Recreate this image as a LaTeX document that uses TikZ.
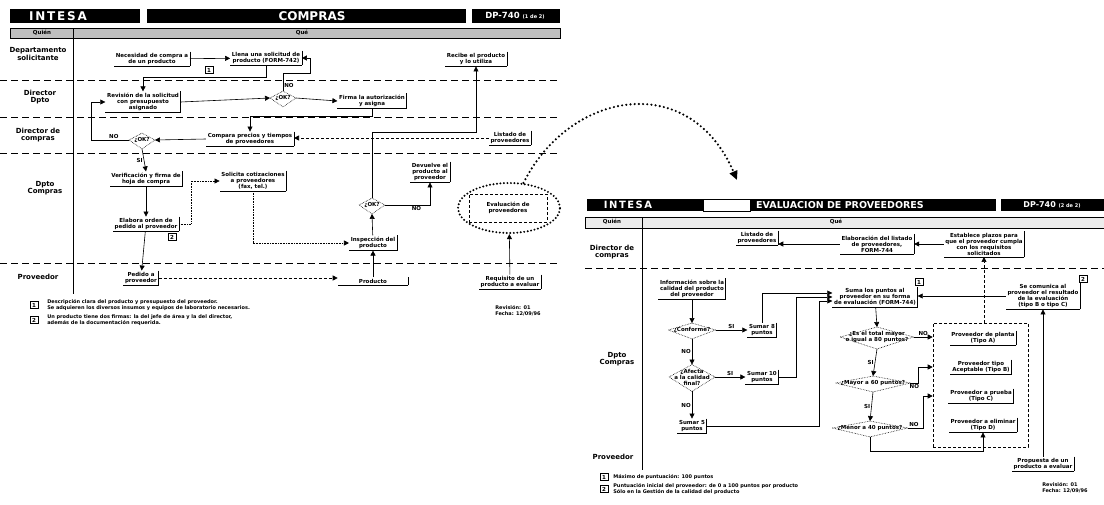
\documentclass[tikz,border=0pt]{standalone}
\usepackage{fontspec}
\setmainfont{DejaVu Sans}
\newfontfamily\headfont[LetterSpace=15]{DejaVu Sans}
\usetikzlibrary{shapes.geometric,arrows.meta,positioning,calc}

\newcommand{\boxfont}{\fontsize{5.5}{6}\selectfont\bfseries}
\newcommand{\lanefont}{\fontsize{7}{7.6}\selectfont\bfseries}

\begin{document}
\begin{tikzpicture}[x=1pt, y=-1pt, line width=.6pt,
  box/.style={font=\boxfont, align=center, inner sep=1.5pt,
    append after command={(\tikzlastnode.north east) edge (\tikzlastnode.south east)
      (\tikzlastnode.south east) edge (\tikzlastnode.south west)}},
  dec/.style={font=\boxfont, align=center, inner sep=1pt,
    append after command={([xshift=-4pt]\tikzlastnode.west) edge[densely dotted] ([yshift=3pt]\tikzlastnode.north)
      ([yshift=3pt]\tikzlastnode.north) edge[densely dotted] ([xshift=4pt]\tikzlastnode.east)
      ([xshift=4pt]\tikzlastnode.east) edge[densely dotted] ([yshift=-5pt]\tikzlastnode.south)
      ([yshift=-5pt]\tikzlastnode.south) edge[densely dotted] ([xshift=-4pt]\tikzlastnode.west)}},
  lane/.style={font=\lanefont, align=center},
  mbox/.style={draw, line width=1pt, font=\boxfont, inner sep=.8pt, minimum width=8pt, minimum height=7pt},
  lbl/.style={font=\boxfont, inner sep=1pt},
  note/.style={font=\fontsize{5}{5.6}\selectfont\bfseries, align=left, anchor=west, inner sep=0pt},
  lanesep/.style={line width=1pt, dash pattern=on 7pt off 4pt},
  evadots/.style={draw, line width=2.2pt, line cap=round, dash pattern=on 0pt off 3.5pt},
  bigdots/.style={line width=2.4pt, line cap=round, dash pattern=on 0pt off 4.2pt, -{Triangle[length=9pt,width=8pt]}},
  hdr/.style={text=white, inner sep=0pt},
  arr/.style={-{Triangle[length=5pt,width=5pt]}}
]
\fill[white] (0,0) rectangle (1104,504);
\useasboundingbox (0,0) rectangle (1104,504);

\fill (10,9) rectangle (140,23);
\fill (147,9) rectangle (466,23);
\fill (472,9) rectangle (560,23);
\node[hdr, font=\headfont\fontsize{12}{12}\selectfont\bfseries] (hInt) at (58,16) {INTESA};
\node[hdr, font=\fontsize{12}{12}\selectfont\bfseries] (hCom) at (312,16) {COMPRAS};
\node[hdr, font=\fontsize{8.5}{9}\selectfont\bfseries] (hDp) at (515,16) {DP-740 {\fontsize{5}{5}\selectfont(1 de 2)}};
\draw[fill=gray!50] (10,28) rectangle (560,38);
\draw (73,28) -- (73,38);
\node[lbl] (qn) at (42,33) {Quién};
\node[lbl] (qe) at (302,33) {Qué};
\draw[line width=1pt] (73,38) -- (73,294);
\foreach \y in {80,117,153,263}
  \draw[lanesep] (0,\y) -- (560,\y);

\node[lane] (lDep) at (38,54) {Departamento\\solicitante};
\node[lane] (lDir) at (40,97) {Director\\Dpto};
\node[lane] (lCom) at (38,135) {Director de\\compras};
\node[lane] (lDpc) at (45,188) {Dpto\\Compras};
\node[lane] (lPro) at (38,277) {Proveedor};

\node[box] (nec) at (152,59) {Necesidad de compra a\\de un producto};
\node[box] (sol) at (266,58) {Llena una solicitud de\\producto (FORM-742)};
\node[mbox] (m1a) at (209,70) {1};
\node[box] (rec) at (476,59) {Recibe el producto\\y lo utiliza};
\node[box] (rev) at (143,102) {Revisión de la solicitud\\con presupuesto\\asignado};
\node[dec] (ok1) at (283,98) {¿OK?};
\node[box] (fir) at (372,101) {Firma la autorización\\y asigna};
\node[box] (com) at (250,139) {Compara precios y tiempos\\de proveedores};
\node[dec] (ok2) at (142,140) {¿OK?};
\node[box] (lis) at (510,138) {Listado de\\proveedores};
\node[box] (ver) at (146,179) {Verificación y firma de\\hoja de compra};
\node[box] (cot) at (253,181) {Solicita cotizaciones\\a proveedores\\(fax, tel.)};
\node[box] (ord) at (146,224) {Elabora orden de\\pedido al proveedor};
\node[mbox] (m2a) at (172,237) {2};
\node[box] (ped) at (141,278) {Pedido a\\proveedor};
\node[dec] (ok3) at (372,205) {¿OK?};
\node[box] (dev) at (430,172) {Devuelve el\\producto al\\proveedor};
\node[box] (ins) at (373,243) {Inspección del\\producto};
\node[box, minimum width=70pt] (pro) at (373,281) {Producto};
\node[ellipse, evadots, minimum width=102pt, minimum height=50pt] (eva) at (509,208) {};
\node[draw, densely dashed, font=\boxfont, align=center, minimum width=78pt, minimum height=28pt] (evt) at (508,208) {Evaluación de\\proveedores};
\node[box] (req) at (510,282) {Requisito de un\\producto a evaluar};

\draw[arr] (nec) -- (sol);
\draw[arr] (sol.south) -- ++(0,12) -| (rev.north);
\draw[arr] (rev.east) -- ([xshift=-4pt]ok1.west);
\draw[arr] ([xshift=4pt]ok1.east) -- (fir.west);
\draw[arr] ([yshift=3pt]ok1.north) -- ++(0,-18) node[lbl, right, pos=.3] (nNo1) {NO} -| ([xshift=8pt]sol.east) -- (sol.east);
\draw[arr] (fir.south) -- ++(0,8) -| (com.north);
\draw[arr, densely dashed] (lis.west) -- (lis.west -| com.east);
\draw[arr] (com.west) -- ([xshift=4pt]ok2.east);
\draw[arr] ([xshift=-4pt]ok2.west) -- ++(-38,0) node[lbl, above, pos=.4] (nNo2) {NO} |- (rev.west);
\draw[arr] ([yshift=-5pt]ok2.south) -- node[lbl, left] (nSi1) {SI} (ver.north);
\draw[arr] (ver) -- (ord);
\draw[arr] (ord) -- (ped);
\draw[arr, densely dotted] (ord.east) -- ++(12,0) |- (cot.west);
\draw[arr, densely dotted] (cot.south) |- (ins.west);
\draw[arr, densely dashed] (ped.east) -- (ped.east -| pro.west);
\draw[arr] (pro) -- (ins);
\draw[arr] (ins) -- ([yshift=-5pt]ok3.south);
\draw[arr] ([yshift=3pt]ok3.north) -- ++(0,-66) -| (rec.south);
\draw[arr] ([xshift=4pt]ok3.east) -| node[lbl, below, pos=.35] (nNo3) {NO} (dev.south);
\draw[arr] (req) -- (eva);

\node[mbox] (fm3) at (34,305) {1};
\node[note] (fn3) at (47,305) {Descripción clara del producto y presupuesto del proveedor.\\Se adquieren los diversos insumos y equipos de laboratorio necesarios.};
\node[mbox] (fm4) at (34,320) {2};
\node[note] (fn4) at (47,320) {Un producto tiene dos firmas: la del jefe de área y la del director,\\además de la documentación requerida.};
\node[note] (rv1) at (495,311) {Revisión: 01\\Fecha: 12/09/96};

\coordinate (tgt) at (737,180);
\draw[bigdots] (eva.60) .. controls (570,90) and (690,70) .. (tgt);

\fill (587,199) rectangle (703,211);
\draw (703,199) rectangle (750,211);
\fill (750,199) rectangle (996,211);
\fill (1001,199) rectangle (1104,211);
\node[hdr, font=\headfont\fontsize{10}{10}\selectfont\bfseries] (hInt2) at (628,205) {INTESA};
\node[hdr, font=\fontsize{9.5}{10}\selectfont\bfseries] (hEva) at (840,205) {EVALUACION DE PROVEEDORES};
\node[hdr, font=\fontsize{8}{9}\selectfont\bfseries] (hDp2) at (1052,205) {DP-740 {\fontsize{5}{5}\selectfont(2 de 2)}};
\draw[fill=gray!15] (585,217) rectangle (1104,228);
\draw (642,217) -- (642,228);
\node[lbl] (qn2) at (612,222) {Quién};
\node[lbl] (qe2) at (836,222) {Qué};
\draw[line width=1pt] (642,228) -- (642,470);
\draw[lanesep] (585,268) -- (1104,268);

\node[lane] (rDir) at (612,252) {Director de\\compras};
\node[lane] (rDpc) at (617,359) {Dpto\\Compras};
\node[lane] (rPro) at (613,457) {Proveedor};

\node[box] (lst) at (757,238) {Listado de\\proveedores};
\node[box] (ela) at (877,244) {Elaboración del listado\\de proveedores,\\FORM-744};
\node[box] (est) at (984,244) {Establece plazos para\\que el proveedor cumpla\\con los requisitos\\solicitados};
\node[mbox] (m1b) at (919,282) {1};
\node[box] (sum) at (875,297) {Suma los puntos al\\proveedor en su forma\\de evaluación (FORM-744)};
\node[box] (com2) at (1043,296) {Se comunica al\\proveedor el resultado\\de la evaluación\\(tipo B o tipo C)};
\node[mbox] (m2b) at (1083,279) {2};
\node[box] (inf) at (692,289) {Información sobre la\\calidad del producto\\del proveedor};
\node[dec] (conf) at (692,330) {¿Conforme?};
\node[box] (s8) at (762,330) {Sumar 8\\puntos};
\node[dec] (afe) at (692,377) {¿Afecta\\a la calidad\\final?};
\node[box] (s10) at (762,377) {Sumar 10\\puntos};
\node[box] (s5) at (692,426) {Sumar 5\\puntos};
\node[dec] (dA) at (877,337) {¿Es el total mayor\\o igual a 80 puntos?};
\node[dec] (dB) at (873,383) {¿Mayor a 60 puntos?};
\node[dec] (dC) at (870,428) {¿Menor a 40 puntos?};
\node[draw, densely dashed, inner sep=0pt, minimum width=95pt, minimum height=124pt] (tip) at (980.5,385) {};
\node[box] (tA) at (983,338) {Proveedor de planta\\(Tipo A)};
\node[box] (tB) at (981,367) {Proveedor tipo\\Aceptable (Tipo B)};
\node[box] (tC) at (981,396) {Proveedor a prueba\\(Tipo C)};
\node[box] (tD) at (983,425) {Proveedor a eliminar\\(Tipo D)};
\node[box] (prp) at (1043,464) {Propuesta de un\\producto a evaluar};

\draw[arr] (ela.west) -- (ela.west -| lst.east);
\draw[arr] (est.west) -- (est.west -| ela.east);
\draw[arr, densely dashed] (tip.north -| est) -- (est.south);
\draw[arr] (com2.west) -- (com2.west -| sum.east);
\draw[arr] (prp.north) -- (prp.north |- com2.south);
\draw[arr] (inf) -- ([yshift=3pt]conf.north);
\draw[arr] ([xshift=4pt]conf.east) -- node[lbl, above] (nS1) {SI} (s8.west);
\draw[arr] ([yshift=-5pt]conf.south) -- node[lbl, left] (nN1) {NO} ([yshift=3pt]afe.north);
\draw[arr] ([xshift=4pt]afe.east) -- node[lbl, above] (nS2) {SI} (s10.west);
\draw[arr] ([yshift=-5pt]afe.south) -- node[lbl, left] (nN2) {NO} (s5.north);
\draw[arr] (s8.north) |- ([yshift=4pt]sum.west);
\draw[arr] (s10.east) -- ++(18,0) |- (sum.west);
\draw[arr] (s5.east) -- ++(113,0) |- ([yshift=-4pt]sum.west);
\draw[arr] (sum) -- ([yshift=3pt]dA.north);
\draw[arr] ([xshift=4pt]dA.east) -- node[lbl, above] (nN3) {NO} (dA.east -| tip.west);
\draw[arr] ([yshift=-5pt]dA.south) -- node[lbl, left] (nS3) {SI} ([yshift=3pt]dB.north);
\draw[arr] ([xshift=4pt]dB.east) -- ++(8,0) node[lbl, below, pos=.5] (nN4) {NO} |- (tB -| tip.west);
\draw[arr] ([yshift=-5pt]dB.south) -- node[lbl, left] (nS4) {SI} ([yshift=3pt]dC.north);
\draw[arr] ([xshift=4pt]dC.east) -- ++(16,0) node[lbl, above, pos=.4] (nN5) {NO} |- (tC -| tip.west);
\draw[arr] ([yshift=-5pt]dC.south) -- ++(0,14) -| (tD.south);

\node[mbox] (fm1) at (604,477) {1};
\node[note] (fn1) at (613,477) {Máximo de puntuación: 100 puntos};
\node[mbox] (fm2) at (604,489) {2};
\node[note] (fn2) at (613,489) {Puntuación inicial del proveedor: de 0 a 100 puntos por producto\\Sólo en la Gestión de la calidad del producto};
\node[note] (rv2) at (1042,488) {Revisión: 01\\Fecha: 12/09/96};
\end{tikzpicture}
\end{document}
